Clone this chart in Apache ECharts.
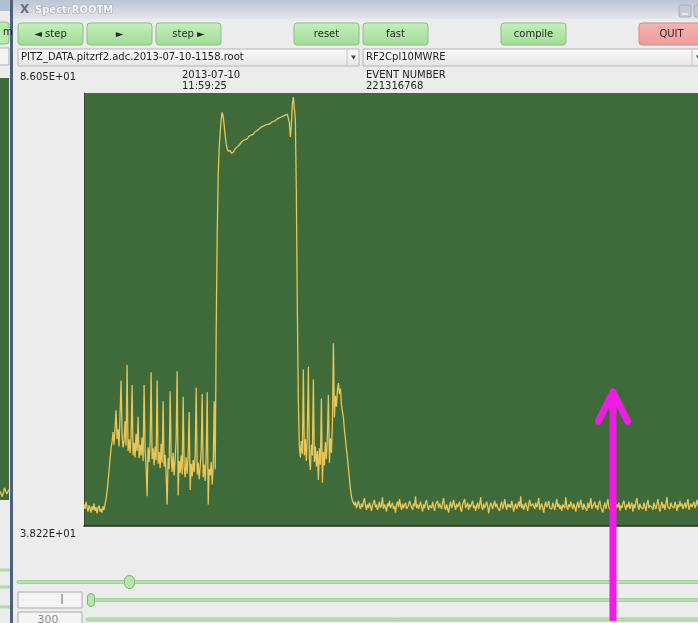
<!DOCTYPE html>
<html>
<head>
<meta charset="utf-8">
<script src="https://cdn.jsdelivr.net/npm/echarts@6/dist/echarts.min.js"></script>
<style>
  html, body { margin: 0; padding: 0; background: #ececec; }
  #c { width: 698px; height: 623px; }
</style>
</head>
<body>
<div id="c"></div>
<script>
// ---- ADC waveform, channel RF2Cpl10MWRE (one sample per entry) ----
const baseLeft = [
  40.6, 40.1, 40.9, 40.3, 39.8, 40.5, 40.2, 39.7, 40.4, 40.0, 40.7,
  39.9, 40.3, 39.6, 40.2, 40.5, 39.8, 40.1, 39.7, 40.4, 40.0, 40.6
];

const bump1 = [
  41.2, 42.0, 43.1, 44.3, 45.6, 46.8, 47.5, 48.6, 47.2, 49.0,
  51.0, 47.8, 48.9, 47.0, 50.5, 54.3, 48.2, 46.9, 47.6, 49.8,
  47.1, 56.0, 46.5, 47.8, 46.3, 48.1, 53.8, 46.0, 47.4, 45.8,
  48.4, 46.5, 50.3, 45.7, 47.2, 46.0, 48.0, 45.4, 53.8, 46.6,
  44.8, 41.5, 46.9, 45.3, 47.5, 55.2, 45.6, 46.8, 44.9, 47.0,
  45.5, 54.3, 45.1, 46.4, 44.6, 47.3, 45.2, 52.0, 44.8, 46.1,
  43.9, 40.6, 45.7, 44.5, 53.1, 45.9, 44.2, 46.3, 43.8, 45.6,
  47.8, 55.3, 41.6, 45.4, 44.1, 46.0, 43.9, 52.5, 44.7, 43.6,
  45.8, 44.0, 46.2, 50.8, 42.2, 45.1, 43.7, 45.5, 44.2, 46.0,
  53.5, 43.9, 45.2, 43.4, 44.8, 46.5, 52.8, 43.6, 45.0, 43.2,
  46.1, 53.0, 40.6, 44.5, 43.8, 45.3, 42.8, 44.9, 52.0, 44.5
];

const plateau = [
  60.0, 70.5, 77.0, 80.0, 81.8, 83.2, 83.9, 83.4, 82.4, 81.3,
  80.4, 79.9, 79.6, 79.5, 79.7, 79.4, 79.6, 79.5, 79.7, 79.9,
  80.0, 80.1, 80.3, 80.3, 80.5, 80.6, 80.6, 80.8, 80.9, 80.9,
  81.1, 81.0, 81.2, 81.3, 81.4, 81.4, 81.6, 81.5, 81.7, 81.8,
  82.0, 81.9, 82.0, 82.1, 82.1, 82.3, 82.2, 82.4, 82.4, 82.5,
  82.5, 82.6, 82.7, 82.6, 82.8, 82.8, 82.9, 82.9, 83.0, 83.0,
  83.1, 83.2, 83.1, 83.3, 83.3, 83.4, 83.4, 83.5, 83.5, 83.6,
  83.6, 83.7, 83.6, 82.8, 81.2, 82.4, 84.8, 85.6, 84.3, 83.2,
  75.0, 62.0
];

const bump2 = [
  52.0, 47.0, 45.8, 47.6, 46.2, 55.5, 46.0, 47.8, 45.4, 48.5,
  55.8, 45.7, 44.4, 47.2, 46.0, 54.4, 45.3, 47.0, 44.8, 46.5,
  43.3, 46.8, 45.0, 52.3, 43.0, 46.4, 44.9, 47.5, 45.6, 48.2,
  52.7, 45.2, 47.9, 46.3, 49.5, 58.4, 50.2, 52.6, 51.4, 53.2,
  54.0, 52.8, 53.4, 51.6, 50.9, 50.2, 48.8, 47.9, 46.7, 45.8,
  44.6, 43.5, 42.3, 41.5, 41.0
];

const baseRight = [
  40.8, 40.5, 40.9, 40.2, 40.6, 41.0, 40.4, 40.1, 40.7, 40.3, 40.9, 41.3, 40.5, 40.0, 40.6, 40.2, 40.8, 40.4, 39.9, 40.5,
  40.7, 41.1, 40.3, 40.6, 40.0, 40.4, 40.9, 40.2, 40.5, 41.4, 40.1, 40.6, 40.3, 39.8, 40.7, 40.4, 41.0, 40.2, 40.5, 40.8,
  40.1, 40.4, 39.7, 40.6, 40.9, 40.3, 41.2, 40.5, 40.0, 40.7, 40.2, 40.4, 40.8, 40.1, 39.9, 40.5, 41.0, 40.6, 40.3, 40.0,
  40.7, 40.4, 41.5, 40.2, 40.6, 40.1, 40.5, 40.9, 40.3, 39.8, 40.6, 40.2, 40.8, 41.1, 40.4, 40.0, 40.5, 40.7, 40.2, 40.9,
  40.3, 39.9, 40.6, 40.4, 41.0, 40.2, 40.7, 40.5, 40.1, 40.8, 41.3, 40.3, 40.0, 40.6, 40.4, 39.7, 40.5, 40.9, 40.2, 40.6,
  41.1, 40.4, 40.0, 40.7, 40.3, 40.5, 40.9, 40.1, 39.8, 40.6, 40.4, 41.2, 40.2, 40.5, 40.8, 40.0, 40.6, 40.3, 40.7, 41.0,
  40.2, 40.5, 39.9, 40.4, 40.8, 40.1, 40.6, 41.4, 40.3, 40.0, 40.7, 40.2, 40.5, 40.9, 40.4, 39.6, 40.3, 40.8, 40.5, 40.1,
  40.6, 41.0, 40.3, 40.7, 40.2, 40.4, 39.9, 40.6, 40.9, 40.1, 40.5, 41.2, 40.4, 40.0, 40.7, 40.3, 40.6, 40.2, 41.0, 40.5,
  39.8, 40.4, 40.7, 40.1, 40.5, 40.9, 40.3, 41.5, 40.2, 40.6, 40.0, 40.4, 40.8, 40.3, 39.9, 40.6, 41.1, 40.4, 40.2, 40.7,
  40.5, 40.1, 40.8, 40.3, 40.6, 41.3, 40.0, 40.4, 40.7, 40.2, 39.7, 40.5, 40.9, 40.3, 40.6, 41.0, 40.2, 40.4, 40.1, 40.8,
  40.4, 40.0, 40.6, 41.2, 40.3, 40.7, 40.1, 40.5, 39.9, 40.6, 40.8, 40.2, 41.4, 40.4, 40.0, 40.6, 40.3, 40.9, 40.5, 40.1,
  40.7, 40.3, 39.8, 40.5, 40.9, 40.2, 40.6, 41.1, 40.4, 40.0, 40.7, 40.3, 40.5, 39.9, 40.8, 40.2, 40.6, 41.3, 40.1, 40.4,
  40.6, 40.9, 40.2, 40.5, 40.0, 40.7, 41.0, 40.3, 40.5, 39.7, 40.4, 40.8, 40.1, 40.6, 41.2, 40.3, 40.0, 40.5, 40.9, 40.2,
  40.4, 41.5, 40.1, 40.6, 40.3, 40.8, 39.9, 40.5, 40.2, 40.7, 41.0, 40.4, 40.0, 40.6, 40.3, 40.9, 40.1, 40.5, 40.8, 39.8,
  40.6, 40.2, 40.9, 41.3, 40.4, 40.0, 40.7, 40.3, 40.5, 40.1, 40.8, 40.4, 39.9, 40.6, 41.1, 40.2, 40.5, 40.7, 40.3, 40.0,
  40.8, 40.4, 40.1, 40.6, 41.2, 40.3, 39.8, 40.5, 40.9, 40.2, 40.6, 40.0, 40.7, 41.4, 40.3, 40.5, 40.1, 40.8, 40.4, 40.6,
  40.2, 40.9, 40.5, 39.9, 40.6, 40.3, 41.0, 40.4, 40.7, 40.1, 40.5, 40.8, 40.2, 40.6, 41.2, 40.0, 40.4, 40.7, 40.3, 40.5,
  40.9, 40.2, 40.6, 41.1, 40.4
];

// trace visible in the window behind (only its right edge shows)
const behindTrace = [39.2, 38.6, 39.6, 38.9, 39.4];

// vertical scale shown beside the display
const yMax = 86.05;
const yMin = 38.22;

// header texts
const fileName = 'PITZ_DATA.pitzrf2.adc.2013-07-10-1158.root';
const channelName = 'RF2Cpl10MWRE';
const dateText = '2013-07-10';
const timeText = '11:59:25';
const eventLabel = 'EVENT NUMBER';
const eventNumber = '221316768';

const trace = [].concat(baseLeft, bump1, plateau, bump2, baseRight);
const traceData = trace.map((v, i) => [i, v]);

// ROOT style exponent formatting, e.g. 8.605E+01
function rootExp(v) {
  const parts = v.toExponential(3).split('e');
  const n = parseInt(parts[1], 10);
  return parts[0] + 'E' + (n < 0 ? '-' : '+') + String(Math.abs(n)).padStart(2, '0');
}

const FONT = '"DejaVu Sans", "Liberation Sans", sans-serif';
const G = echarts.graphic;

function label(x, y, text, opts) {
  opts = opts || {};
  return {
    type: 'text', z: opts.z || 5,
    style: {
      x: x, y: y, text: text,
      fill: opts.fill || '#222',
      font: (opts.weight || 'normal') + ' ' + (opts.size || 10) + 'px ' + FONT,
      align: opts.align || 'left',
      verticalAlign: opts.va || 'middle'
    }
  };
}

function button(x, y, w, h, text, pink) {
  const fill = pink
    ? new G.LinearGradient(0, 0, 0, 1, [{ offset: 0, color: '#f8b4b4' }, { offset: 1, color: '#f09a9a' }])
    : new G.LinearGradient(0, 0, 0, 1, [{ offset: 0, color: '#c4f0bc' }, { offset: 1, color: '#9edc94' }]);
  return {
    type: 'group', x: x, y: y, z: 5,
    children: [
      { type: 'rect', shape: { x: 0, y: 0, width: w, height: h, r: 3 },
        style: { fill: fill, stroke: pink ? '#c89090' : '#90bc88', lineWidth: 1 } },
      { type: 'text', style: { x: w / 2, y: h / 2, text: text, fill: '#2a2a2a',
        font: '10px ' + FONT, align: 'center', verticalAlign: 'middle' } }
    ]
  };
}

function combo(x, y, w, h, text) {
  return {
    type: 'group', x: x, y: y, z: 5,
    children: [
      { type: 'rect', shape: { x: 0, y: 0, width: w, height: h },
        style: { fill: new G.LinearGradient(0, 0, 0, 1, [{ offset: 0, color: '#fafafa' }, { offset: 1, color: '#e6e6e6' }]),
          stroke: '#b4b4b4', lineWidth: 1 } },
      { type: 'line', shape: { x1: w - 12, y1: 1, x2: w - 12, y2: h - 1 }, style: { stroke: '#c4c4c4', lineWidth: 1 } },
      { type: 'text', style: { x: 3, y: h / 2, text: text, fill: '#222', font: '10px ' + FONT, verticalAlign: 'middle' } },
      { type: 'polygon', shape: { points: [[w - 8, h / 2 - 2], [w - 3, h / 2 - 2], [w - 5.5, h / 2 + 2]] },
        style: { fill: '#444' } }
    ]
  };
}

function sliderLine(x, y, w) {
  return { type: 'rect', z: 4, shape: { x: x, y: y - 1.5, width: w, height: 3, r: 1.5 },
    style: { fill: '#b6e2ae', stroke: '#94c88c', lineWidth: 0.8 } };
}

function knob(cx, cy, w, h) {
  return { type: 'rect', z: 6, shape: { x: cx - w / 2, y: cy - h / 2, width: w, height: h, r: w / 2 },
    style: { fill: '#b0e8a6', stroke: '#7cb872', lineWidth: 1 } };
}

const graphics = [
  // window partly hidden behind on the left
  { type: 'rect', z: 2, shape: { x: 0, y: 0, width: 12, height: 11 }, style: { fill: '#b4c0d2' } },
  { type: 'rect', z: 2, shape: { x: -4, y: 22, width: 13, height: 22, r: 3 },
    style: { fill: '#b4eaaa', stroke: '#90bc88' } },
  label(3, 32, 'm', { size: 10 }),
  { type: 'rect', z: 2, shape: { x: -2, y: 48, width: 11, height: 17 }, style: { fill: '#f4f4f4', stroke: '#b4b4b4' } },
  { type: 'rect', z: 2, shape: { x: -2, y: 568.5, width: 12, height: 3 }, style: { fill: '#aedaa6' } },
  { type: 'rect', z: 2, shape: { x: -2, y: 585.5, width: 12, height: 3 }, style: { fill: '#aedaa6' } },
  { type: 'rect', z: 2, shape: { x: -2, y: 605.5, width: 12, height: 3 }, style: { fill: '#aedaa6' } },
  { type: 'rect', z: 3, shape: { x: 10, y: 0, width: 3, height: 623 }, style: { fill: '#4d5f80' } },

  // title bar
  { type: 'rect', z: 2, shape: { x: 13, y: 0, width: 685, height: 19 },
    style: { fill: new G.LinearGradient(0, 0, 0, 1, [{ offset: 0, color: '#bcc5d4' }, { offset: 1, color: '#e2e6ec' }]) } },
  label(20, 10, 'X', { size: 12, fill: '#6a6e76', weight: 'bold' }),
  { type: 'text', z: 5, style: { x: 35, y: 10, text: 'SpectrROOTM', fill: '#f4f5f8',
      stroke: '#a2a9b6', lineWidth: 1.2, font: 'bold 10px ' + FONT, verticalAlign: 'middle' } },
  { type: 'rect', z: 5, shape: { x: 679, y: 5, width: 12, height: 12, r: 2 }, style: { fill: '#c4ccd8', stroke: '#a4acba' } },
  { type: 'line', z: 6, shape: { x1: 682, y1: 14, x2: 688, y2: 14 }, style: { stroke: '#f4f4f4', lineWidth: 1.5 } },
  { type: 'rect', z: 5, shape: { x: 694, y: 5, width: 12, height: 12, r: 2 }, style: { fill: '#c4ccd8', stroke: '#a4acba' } },

  // button row
  button(18, 23, 65, 22, '◄ step'),
  button(87, 23, 65, 22, '►'),
  button(156, 23, 65, 22, 'step ►'),
  button(294, 23, 65, 22, 'reset'),
  button(363, 23, 65, 22, 'fast'),
  button(501, 23, 65, 22, 'compile'),
  button(639, 23, 65, 22, 'QUIT', true),

  // selectors
  combo(18, 49, 341, 17, fileName),
  combo(363, 49, 341, 17, channelName),

  // header texts
  label(20, 77, rootExp(yMax)),
  label(182, 75, dateText),
  label(182, 86, timeText),
  label(366, 75, eventLabel),
  label(366, 86, eventNumber),
  label(20, 534, rootExp(yMin)),

  // sliders and entry fields
  sliderLine(17, 582, 690),
  knob(129.5, 582, 10, 13),
  { type: 'rect', z: 4, shape: { x: 18, y: 592, width: 64, height: 16 }, style: { fill: '#f4f4f4', stroke: '#aaaaaa' } },
  label(62, 600, 'I', { size: 14, fill: '#8c8c8c', align: 'center' }),
  sliderLine(88, 600, 620),
  knob(91, 600, 7, 13),
  { type: 'rect', z: 4, shape: { x: 18, y: 612, width: 64, height: 16 }, style: { fill: '#f4f4f4', stroke: '#aaaaaa' } },
  label(48, 620, '300', { size: 11, fill: '#8c8c8c', align: 'center' }),
  sliderLine(86, 619.5, 620),

  // magenta pointer arrow
  { type: 'polyline', z: 100, shape: { points: [[613, 621], [613, 392]] },
    style: { stroke: '#f01ce6', lineWidth: 7, lineCap: 'butt' } },
  { type: 'polyline', z: 100, shape: { points: [[598.5, 421], [613, 392], [627.5, 421]] },
    style: { stroke: '#f01ce6', lineWidth: 7, lineCap: 'round', lineJoin: 'round', fill: null } }
];

const chart = echarts.init(document.getElementById('c'), null, { renderer: 'canvas' });

chart.setOption({
  backgroundColor: '#ececec',
  animation: false,
  grid: [
    { left: 84, top: 93, right: 0, bottom: 97, show: true, backgroundColor: '#3f6a3a', borderWidth: 0 },
    { left: 0, top: 78, width: 9, height: 422, show: true, backgroundColor: '#3f6a3a', borderWidth: 0 }
  ],
  xAxis: [
    { type: 'value', gridIndex: 0, min: 0, max: trace.length - 1,
      axisLine: { show: true, lineStyle: { color: '#22301f', width: 1.5 } },
      axisTick: { show: false }, axisLabel: { show: false }, splitLine: { show: false } },
    { type: 'value', gridIndex: 1, min: 0, max: behindTrace.length - 1, show: false }
  ],
  yAxis: [
    { type: 'value', gridIndex: 0, min: yMin, max: yMax,
      axisLine: { show: true, lineStyle: { color: '#34472f', width: 1 } },
      axisTick: { show: false }, axisLabel: { show: false }, splitLine: { show: false } },
    { type: 'value', gridIndex: 1, min: yMin, max: yMax, show: false }
  ],
  graphic: { elements: graphics },
  series: [
    { type: 'line', xAxisIndex: 0, yAxisIndex: 0, data: traceData, showSymbol: false, symbol: 'none',
      lineStyle: { color: '#e8c658', width: 1.3 }, clip: true, silent: true, z: 3 },
    { type: 'line', xAxisIndex: 1, yAxisIndex: 1, data: behindTrace.map((v, i) => [i, v]), showSymbol: false,
      symbol: 'none', lineStyle: { color: '#e8c658', width: 1.3 }, clip: true, silent: true, z: 3 }
  ]
});
</script>
</body>
</html>
